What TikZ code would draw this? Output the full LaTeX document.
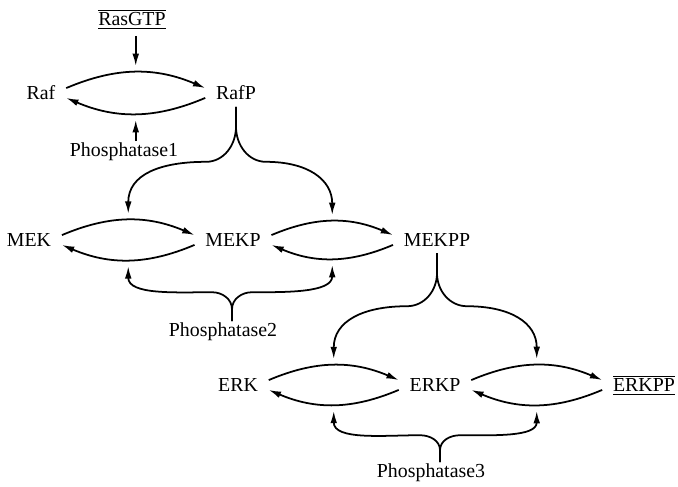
\documentclass[tikz,border=0pt]{standalone}
\usepackage{fontspec}
\setmainfont{Liberation Serif}
\usetikzlibrary{arrows.meta}

\begin{document}
\begin{tikzpicture}[scale=1, >={Latex[length=7pt,width=3.8pt]}, line width=1pt,
    every node/.style={font=\fontsize{11.3}{13.6}\selectfont, inner xsep=5.7pt},
    enzyme/.style={inner ysep=0.5pt},
    tip/.style={shorten >=3.5pt}]
    \useasboundingbox (0,0) rectangle (13.56,-9.74);
    % species
    \node (RasGTP) at (2.64,-0.38) {$\overline{\underline{\hbox{RasGTP}}}$};
    \node (Raf)    at (0.82,-1.86) {Raf};
    \node (RafP)   at (4.72,-1.86) {RafP};
    \node (MEK)    at (0.58,-4.80) {MEK};
    \node (MEKP)   at (4.66,-4.80) {MEKP};
    \node (MEKPP)  at (8.74,-4.80) {MEKPP};
    \node (ERK)    at (4.76,-7.70) {ERK};
    \node (ERKP)   at (8.70,-7.70) {ERKP};
    \node (ERKPP)  at (12.88,-7.70) {$\overline{\underline{\hbox{ERKPP}}}$};
    \node[enzyme] (Phos1) at (2.48,-3.04) {Phosphatase1};
    \node[enzyme] (Phos2) at (4.46,-6.64) {Phosphatase2};
    \node[enzyme] (Phos3) at (8.62,-9.46) {Phosphatase3};
    % phosphorylation cycles
    \foreach \a/\b in {Raf/RafP, MEK/MEKP, MEKP/MEKPP, ERK/ERKP, ERKP/ERKPP}{
        \draw[->] ([yshift=2.8pt]\a.east) to[bend left=23] node[coordinate, pos=0.5] (\a-hi) {} ([yshift=2.8pt]\b.west);
        \draw[->] ([yshift=-2.8pt]\b.west) to[bend left=23] node[coordinate, pos=0.5] (\a-lo) {} ([yshift=-2.8pt]\a.east);
    }
    % kinases
    \draw[->, tip] (RasGTP.south -| Raf-hi) -- (Raf-hi);
    \draw[->, tip] (RafP.south) -- ++(0,-0.4) to[out=-90, in=0] ++(-0.6,-0.7) to[out=180, in=90, looseness=1.2] (MEK-hi);
    \draw[->, tip] (RafP.south) -- ++(0,-0.4) to[out=-90, in=180] ++(0.6,-0.7) to[out=0, in=90, looseness=1.2] (MEKP-hi);
    \draw[->, tip] (MEKPP.south) -- ++(0,-0.4) to[out=-90, in=0] ++(-0.6,-0.66) to[out=180, in=90, looseness=1.2] (ERK-hi);
    \draw[->, tip] (MEKPP.south) -- ++(0,-0.4) to[out=-90, in=180] ++(0.6,-0.66) to[out=0, in=90, looseness=1.2] (ERKP-hi);
    % phosphatases
    \draw[->, tip] (Phos1.north -| Raf-lo) -- (Raf-lo);
    \draw[->, tip] ([xshift=0.18cm]Phos2.north) -- ++(0,0.24) to[out=90, in=0] ++(-0.4,0.34) to[out=180, in=-90] (MEK-lo);
    \draw[->, tip] ([xshift=0.18cm]Phos2.north) -- ++(0,0.24) to[out=90, in=180] ++(0.4,0.34) to[out=0, in=-90] (MEKP-lo);
    \draw[->, tip] ([xshift=0.18cm]Phos3.north) -- ++(0,0.24) to[out=90, in=0] ++(-0.4,0.3) to[out=180, in=-90] (ERK-lo);
    \draw[->, tip] ([xshift=0.18cm]Phos3.north) -- ++(0,0.24) to[out=90, in=180] ++(0.4,0.3) to[out=0, in=-90] (ERKP-lo);
\end{tikzpicture}
\end{document}
